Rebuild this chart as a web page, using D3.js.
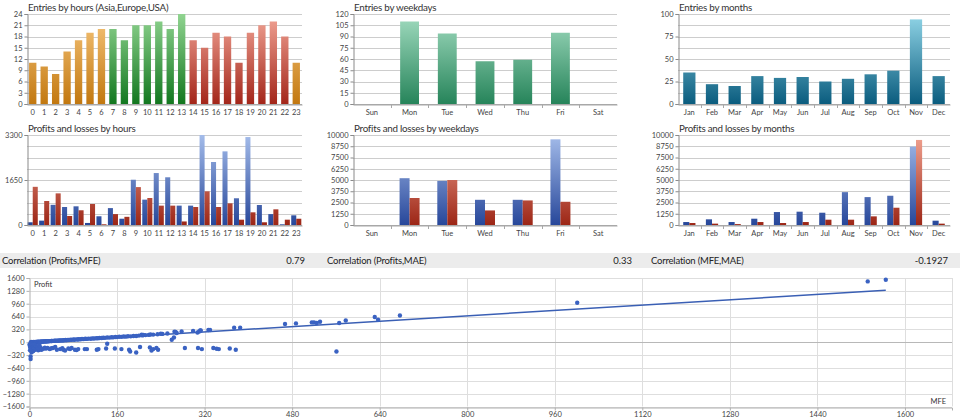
<!DOCTYPE html>
<html><head><meta charset="utf-8">
<script src="https://cdn.jsdelivr.net/npm/d3@7"></script>
<style>
body{margin:0;background:#fff}
svg{display:block}
text{font-family:Lato,"Liberation Sans",Arial,sans-serif}
</style></head>
<body>
<svg id="c" width="960" height="418"></svg>
<script>
// ---------- DATA ----------
const hourLabels = ["0","1","2","3","4","5","6","7","8","9","10","11","12","13","14","15","16","17","18","19","20","21","22","23"];
const hourEntries = [11,10,8,14,17,19,20,20,17,21,21,22,20,24,17,15,19,18,11,19,21,22,18,11];
const hourSession = ["asia","asia","asia","asia","asia","asia","asia","europe","europe","europe","europe","europe","europe","europe","usa","usa","usa","usa","usa","usa","usa","usa","usa","asia"];
const hourProfits = [100,160,740,660,685,75,320,620,230,1660,930,1905,1750,710,710,3300,2310,2700,980,3225,733,400,25,355];
const hourLosses  = [1400,880,1160,330,540,770,25,400,300,1390,990,710,710,130,660,1235,660,795,195,465,100,575,195,230];

const weekdayLabels = ["Sun","Mon","Tue","Wed","Thu","Fri","Sat"];
const weekdayEntries = [0,110,94,57,59,95,0];
const weekdayProfits = [0,5200,4900,2800,2800,9520,0];
const weekdayLosses  = [0,3000,5000,1620,2730,2580,0];

const monthLabels = ["Jan","Feb","Mar","Apr","May","Jun","Jul","Aug","Sep","Oct","Nov","Dec"];
const monthEntries = [35,22,20,31,29,30,25,28,33,37,94,31];
const monthProfits = [330,630,330,700,1440,1480,1365,3650,3100,3250,8710,480];
const monthLosses  = [220,150,100,330,220,330,590,590,960,1920,9450,150];

const hourTicks = [0,3,6,9,12,15,18,21,24];
const weekdayTicks = [0,15,30,45,60,75,90,105,120];
const monthTicks = [0,25,50,75,100];
const monthGrid = [0,12.5,25,37.5,50,62.5,75,87.5,100];
const plHourTicks = [0,1650,3300];
const plHourGrid = [0,412.5,825,1237.5,1650,2062.5,2475,2887.5,3300];
const plTicks = [0,1250,2500,3750,5000,6250,7500,8750,10000];

const correlationLabels = ["Correlation (Profits,MFE)","Correlation (Profits,MAE)","Correlation (MFE,MAE)"];
const correlationValues = ["0.79","0.33","-0.1927"];

const scatterMFE = [
 2,3,4,5,6,7,8,9,10,11,12,13,14,15,16,17,18,19,20,21,22,24,25,26,28,29,30,32,33,35,36,38,40,41,43,45,46,48,50,52,54,56,58,60,62,64,66,68,70,72,75,77,80,82,85,88,90,93,96,99,102,105,108,112,115,118,122,125,128,132,135,138,142,146,150,153,157,160,164,168,172,176,180,185,190,195,200,206,212,218,226,234,243,252,
 0,1,1,2,2,3,3,4,5,5,6,7,8,8,9,10,11,12,13,14,15,16,17,18,19,20,22,25,28,30,33,37,40,43,47,50,56,60,62,65,71,74,77,83,86,89,101,105,123,126,140,142,156,168,182,184,195,202,220,223,226,232,235,284,308,315,336,342,346,366,377,561,
 205,208,221,240,260,264,265,267,269,278,299,307,310,312,313,327,330,374,385,467,487,516,520,525,531,566,578,631,637,677,1001,1532,1565
];
const scatterProfit = [
 -10,5,-20,2,-5,8,-30,4,6,-15,10,3,12,-8,14,9,15,-12,16,11,18,14,20,17,22,18,24,20,27,25,29,28,32,30,35,33,38,36,41,39,44,42,47,45,50,48,55,51,58,56,62,60,67,64,71,70,76,73,81,78,86,83,91,88,96,93,101,99,107,104,113,110,118,116,125,122,131,128,137,134,143,140,150,147,157,154,165,171,178,183,191,199,208,217,
 -60,-120,-200,-354,-419,-90,-150,-250,-180,-70,-130,-220,-100,-160,-60,-190,-130,-90,-170,-140,-110,-200,-150,-80,-180,-130,-187,-162,-137,-160,-140,-170,-150,-145,-120,-187,-170,-150,-187,-204,-154,-170,-145,-187,-195,-170,-170,-170,-187,-170,-154,-37,-154,-170,-187,-229,-254,-120,-128,-204,-170,-145,-187,-145,-145,-170,-145,-162,-170,-154,-187,-229,
 187,179,194,212,62,120,262,254,229,269,279,244,269,294,294,304,304,361,361,453,469,494,494,478,511,478,543,628,561,668,984,1515,1557
];
const trendMFE = [0,1565];
const trendProfit = [-10,1297];
const scatterXTicks = [0,160,320,480,640,800,960,1120,1280,1440,1600];
const scatterYTicks = [1600,1280,960,640,320,0,-320,-640,-960,-1280,-1600];

// ---------- DRAW ----------
const svg = d3.select("#c");
const defs = svg.append("defs");
let gradId = 0;
function grad(top, bottom, y0, y1){
  const id = "g" + (gradId++);
  const lg = defs.append("linearGradient").attr("id", id)
    .attr("gradientUnits","userSpaceOnUse").attr("x1",0).attr("x2",0).attr("y1",y0).attr("y2",y1);
  lg.append("stop").attr("offset","0%").attr("stop-color",top);
  lg.append("stop").attr("offset","100%").attr("stop-color",bottom);
  return "url(#" + id + ")";
}
const palette = {
  asia:["#f7c67c","#c27810"],
  europe:["#90d490","#12771f"],
  usa:["#f2a596","#a3261a"],
  week:["#a2dcc0","#26845a"],
  month:["#92d6e8","#0a5c7e"],
  profit:["#a4bcea","#27479a"],
  loss:["#f2a492","#9c2616"]
};

function barChart(cfg){
  const g = svg.append("g");
  const x = d3.scaleBand().domain(cfg.cats).range([cfg.x0,cfg.x1]).paddingInner(cfg.pad).paddingOuter(cfg.pad/2);
  const y = d3.scaleLinear().domain([0,cfg.max]).range([cfg.y1,cfg.y0]);
  g.selectAll("line.grid").data(cfg.grid).join("line").attr("class","grid")
    .attr("x1",cfg.x0).attr("x2",cfg.x1).attr("y1",d=>Math.round(y(d))+0.5).attr("y2",d=>Math.round(y(d))+0.5)
    .attr("stroke",(d,i)=>i===cfg.grid.length-1?"#a8a8a8":"#cdcdcd").attr("stroke-width",1);
  const n = cfg.series.length;
  const inner = d3.scaleBand().domain(d3.range(n)).range([0,x.bandwidth()]).padding(0);
  cfg.series.forEach((s,si)=>{
    g.selectAll("rect.s"+si).data(s.values.map((v,i)=>({v,c:cfg.cats[i],i}))).join("rect")
      .filter(d=>d.v>0)
      .attr("x",d=>x(d.c)+inner(si)).attr("width",inner.bandwidth())
      .attr("y",d=>y(Math.min(d.v,cfg.max))).attr("height",d=>y(0)-y(Math.min(d.v,cfg.max)))
      .attr("fill",d=>s.fill(d.i));
  });
  const ya = g.append("g").attr("transform",`translate(${cfg.x0+0.5},0)`)
    .call(d3.axisLeft(y).tickValues(cfg.ticks).tickSize(3).tickPadding(2).tickFormat(d3.format("d")));
  ya.select(".domain").attr("stroke","#8a8a8a");
  ya.selectAll(".tick line").attr("stroke","#8a8a8a");
  ya.selectAll("text").attr("font-size",7.5).attr("fill","#444").attr("font-family","Lato,'Liberation Sans',sans-serif");
  const xa = g.append("g").attr("transform",`translate(0,${cfg.y1+0.5})`)
    .call(d3.axisBottom(x).tickSize(0).tickPadding(5));
  xa.select(".domain").attr("stroke","#a8a8a8");
  xa.selectAll("text").attr("font-size",7.5).attr("fill","#444").attr("font-family","Lato,'Liberation Sans',sans-serif");
  if(cfg.sepTicks){
    const step = x.step();
    g.selectAll("line.sep").data(cfg.cats.slice(0,-1)).join("line")
      .attr("x1",d=>Math.round(x(d)-x.paddingInner()*step/2+step)+0.5)
      .attr("x2",d=>Math.round(x(d)-x.paddingInner()*step/2+step)+0.5)
      .attr("y1",cfg.y1).attr("y2",cfg.y1+4).attr("stroke","#a8a8a8");
  }
  g.append("text").attr("x",cfg.x0+1).attr("y",cfg.y0-3.5).attr("font-size",9.8).attr("letter-spacing",-0.25)
    .attr("fill","#333").text(cfg.title);
}

const colL=[27,302], colM=[353,617], colR=[678,950];
const row1=[14,104], row2=[135,225];

barChart({title:"Entries by hours (Asia,Europe,USA)",cats:hourLabels,x0:colL[0],x1:colL[1],y0:row1[0],y1:row1[1],max:24,ticks:hourTicks,grid:hourTicks.slice().reverse(),pad:0.36,
  series:[{values:hourEntries,fill:(()=>{const f={};["asia","europe","usa"].forEach(k=>f[k]=grad(palette[k][0],palette[k][1],row1[0],row1[1]));return i=>f[hourSession[i]];})()}]});
barChart({title:"Entries by weekdays",cats:weekdayLabels,x0:colM[0],x1:colM[1],y0:row1[0],y1:row1[1],max:120,ticks:weekdayTicks,grid:weekdayTicks.slice().reverse(),pad:0.5,sepTicks:true,
  series:[{values:weekdayEntries,fill:(()=>{const f=grad(palette.week[0],palette.week[1],row1[0],row1[1]);return ()=>f;})()}]});
barChart({title:"Entries by months",cats:monthLabels,x0:colR[0],x1:colR[1],y0:row1[0],y1:row1[1],max:100,ticks:monthTicks,grid:monthGrid.slice().reverse(),pad:0.46,sepTicks:true,
  series:[{values:monthEntries,fill:(()=>{const f=grad(palette.month[0],palette.month[1],row1[0],row1[1]);return ()=>f;})()}]});

function plSeries(p,l){
  const fp=grad(palette.profit[0],palette.profit[1],row2[0],row2[1]);
  const fl=grad(palette.loss[0],palette.loss[1],row2[0],row2[1]);
  return [{values:p,fill:()=>fp},{values:l,fill:()=>fl}];
}
barChart({title:"Profits and losses by hours",cats:hourLabels,x0:colL[0],x1:colL[1],y0:row2[0],y1:row2[1],max:3300,ticks:plHourTicks,grid:plHourGrid.slice().reverse(),pad:0.12,
  series:plSeries(hourProfits,hourLosses)});
barChart({title:"Profits and losses by weekdays",cats:weekdayLabels,x0:colM[0],x1:colM[1],y0:row2[0],y1:row2[1],max:10000,ticks:plTicks,grid:plTicks.slice().reverse(),pad:0.47,sepTicks:true,
  series:plSeries(weekdayProfits,weekdayLosses)});
barChart({title:"Profits and losses by months",cats:monthLabels,x0:colR[0],x1:colR[1],y0:row2[0],y1:row2[1],max:10000,ticks:plTicks,grid:plTicks.slice().reverse(),pad:0.46,sepTicks:true,
  series:plSeries(monthProfits,monthLosses)});

// correlation strip
const corr = svg.append("g");
corr.append("rect").attr("x",0).attr("y",253).attr("width",960).attr("height",15).attr("fill","#ececec");
const corrX = [[2,305],[327,632],[651,948]];
correlationLabels.forEach((t,i)=>{
  corr.append("text").attr("x",corrX[i][0]).attr("y",264).attr("font-size",9.5).attr("letter-spacing",-0.2).attr("fill","#222")
    .attr("font-family","'DejaVu Sans Condensed','Liberation Sans Narrow',Lato,sans-serif").text(t);
  corr.append("text").attr("x",corrX[i][1]).attr("y",264).attr("font-size",9.5).attr("fill","#222").attr("text-anchor","end")
    .attr("font-family","'DejaVu Sans Condensed','Liberation Sans Narrow',Lato,sans-serif").text(correlationValues[i]);
});

// scatter
const sp = svg.append("g");
const sx = d3.scaleLinear().domain([0,1686]).range([29.5,952]);
const sy = d3.scaleLinear().domain([-1600,1600]).range([406.5,278]);
sp.selectAll("line.vg").data(scatterXTicks.slice(1)).join("line")
  .attr("x1",d=>Math.round(sx(d))+0.5).attr("x2",d=>Math.round(sx(d))+0.5).attr("y1",sy(1600)).attr("y2",sy(-1600)).attr("stroke","#dedede");
sp.selectAll("line.hg").data(scatterYTicks).join("line")
  .attr("x1",sx(0)).attr("x2",952).attr("y1",d=>Math.round(sy(d))+0.5).attr("y2",d=>Math.round(sy(d))+0.5)
  .attr("stroke",d=>d===0?"#b8b8b8":"#dedede");
sp.append("line").attr("x1",952.5).attr("x2",952.5).attr("y1",sy(1600)).attr("y2",sy(-1600)).attr("stroke","#dedede");
const sya = sp.append("g").attr("transform",`translate(${sx(0)},0)`)
  .call(d3.axisLeft(sy).tickValues(scatterYTicks).tickSize(3).tickPadding(2).tickFormat(d3.format("d")));
sya.select(".domain").attr("stroke","#b0b0b0");
sya.selectAll(".tick line").attr("stroke","#b0b0b0");
sya.selectAll("text").attr("font-size",7.5).attr("fill","#444").attr("font-family","Lato,'Liberation Sans',sans-serif");
const sxa = sp.append("g").attr("transform",`translate(0,${Math.round(sy(-1600))+0.5})`)
  .call(d3.axisBottom(sx).tickValues(scatterXTicks).tickSize(3).tickPadding(1).tickFormat(d3.format("d")));
sxa.select(".domain").attr("stroke","#b0b0b0");
sxa.selectAll(".tick line").attr("stroke","#b0b0b0");
sxa.selectAll("text").attr("font-size",7.5).attr("fill","#444").attr("font-family","Lato,'Liberation Sans',sans-serif");

sp.append("line").attr("x1",sx(trendMFE[0])).attr("y1",sy(trendProfit[0])).attr("x2",sx(trendMFE[1])).attr("y2",sy(trendProfit[1]))
  .attr("stroke","#3a5fb4").attr("stroke-width",1.5);
sp.selectAll("circle").data(scatterMFE.map((m,i)=>[m,scatterProfit[i]])).join("circle")
  .attr("cx",d=>sx(d[0])).attr("cy",d=>sy(d[1])).attr("r",2.2).attr("fill","#3a62c2");
sp.append("text").attr("x",34).attr("y",287).attr("font-size",7.5).attr("fill","#333").text("Profit");
sp.append("text").attr("x",946).attr("y",404).attr("font-size",7.5).attr("fill","#333").attr("text-anchor","end").text("MFE");
</script>
</body></html>
